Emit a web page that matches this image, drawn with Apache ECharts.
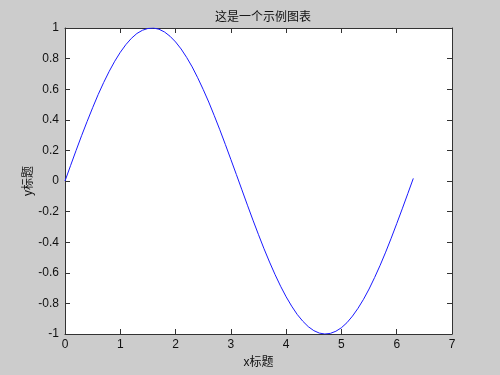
<!DOCTYPE html>
<html>
<head>
<meta charset="utf-8">
<script src="https://cdn.jsdelivr.net/npm/echarts@6/dist/echarts.min.js"></script>
<style>html,body{margin:0;padding:0;background:#cccccc;}#c{width:500px;height:375px;}</style>
</head>
<body>
<div id="c"></div>
<script>
var titleText = '这是一个示例图表';
var xName = 'x标题';
var yName = 'y标题';
var xValues = [0.0,0.1,0.2,0.3,0.4,0.5,0.6,0.7,0.8,0.9,1.0,1.1,1.2,1.3,1.4,1.5,1.6,1.7,1.8,1.9,2.0,2.1,2.2,2.3,2.4,2.5,2.6,2.7,2.8,2.9,3.0,3.1,3.2,3.3,3.4,3.5,3.6,3.7,3.8,3.9,4.0,4.1,4.2,4.3,4.4,4.5,4.6,4.7,4.8,4.9,5.0,5.1,5.2,5.3,5.4,5.5,5.6,5.7,5.8,5.9,6.0,6.1,6.2,6.3];
var yValues = [0.000,0.100,0.199,0.296,0.389,0.479,0.565,0.644,0.717,0.783,0.841,0.891,0.932,0.964,0.985,0.997,1.000,0.992,0.974,0.946,0.909,0.863,0.808,0.746,0.675,0.598,0.516,0.427,0.335,0.239,0.141,0.042,-0.058,-0.158,-0.256,-0.351,-0.443,-0.530,-0.612,-0.688,-0.757,-0.818,-0.872,-0.916,-0.952,-0.978,-0.994,-1.000,-0.996,-0.982,-0.959,-0.926,-0.883,-0.832,-0.773,-0.706,-0.631,-0.551,-0.465,-0.374,-0.279,-0.182,-0.083,0.017];
var seriesData = xValues.map(function(x,i){return [x, yValues[i]];});
var font = '"Liberation Sans", Arial, "Noto Sans CJK SC", sans-serif';
var axisColor = '#333333';
var chart = echarts.init(document.getElementById('c'));
function baseAxis(extra){
  var a = {
    axisLine:{show:true,onZero:false,lineStyle:{color:axisColor,width:1}},
    axisTick:{show:true,inside:true,length:5,lineStyle:{color:axisColor}},
    splitLine:{show:false},
    axisLabel:{color:'#111',fontSize:12,fontFamily:font}
  };
  for (var k in extra) a[k]=extra[k];
  return a;
}
chart.setOption({
  backgroundColor:'#cccccc',
  animation:false,
  title:{text:titleText,left:258,top:7,textAlign:'center',textStyle:{fontSize:12,fontWeight:'normal',color:'#111',fontFamily:font}},
  grid:{left:65,right:48,top:28,bottom:41,show:true,backgroundColor:'#ffffff',borderWidth:0},
  xAxis:[
    baseAxis({type:'value',min:0,max:7,interval:1,position:'bottom',name:xName,nameLocation:'middle',nameGap:23,nameMoveOverlap:false,nameTextStyle:{fontSize:12,color:'#111',fontFamily:font},axisLabel:{color:'#111',fontSize:12,fontFamily:font,margin:5}}),
    baseAxis({type:'value',min:0,max:7,interval:1,position:'top',axisLabel:{show:false}})
  ],
  yAxis:[
    baseAxis({type:'value',min:-1,max:1,interval:0.2,position:'left',name:yName,nameLocation:'middle',nameGap:30,nameMoveOverlap:false,nameTextStyle:{fontSize:12,color:'#111',fontFamily:font},axisLabel:{color:'#111',fontSize:12,fontFamily:font,margin:6,formatter:function(v){return String(Math.round(v*10)/10);}}}),
    baseAxis({type:'value',min:-1,max:1,interval:0.2,position:'right',axisLabel:{show:false}})
  ],
  series:[{type:'line',data:seriesData,xAxisIndex:0,yAxisIndex:0,showSymbol:false,lineStyle:{color:'#1a1aff',width:1},smooth:false}]
});
</script>
</body>
</html>
